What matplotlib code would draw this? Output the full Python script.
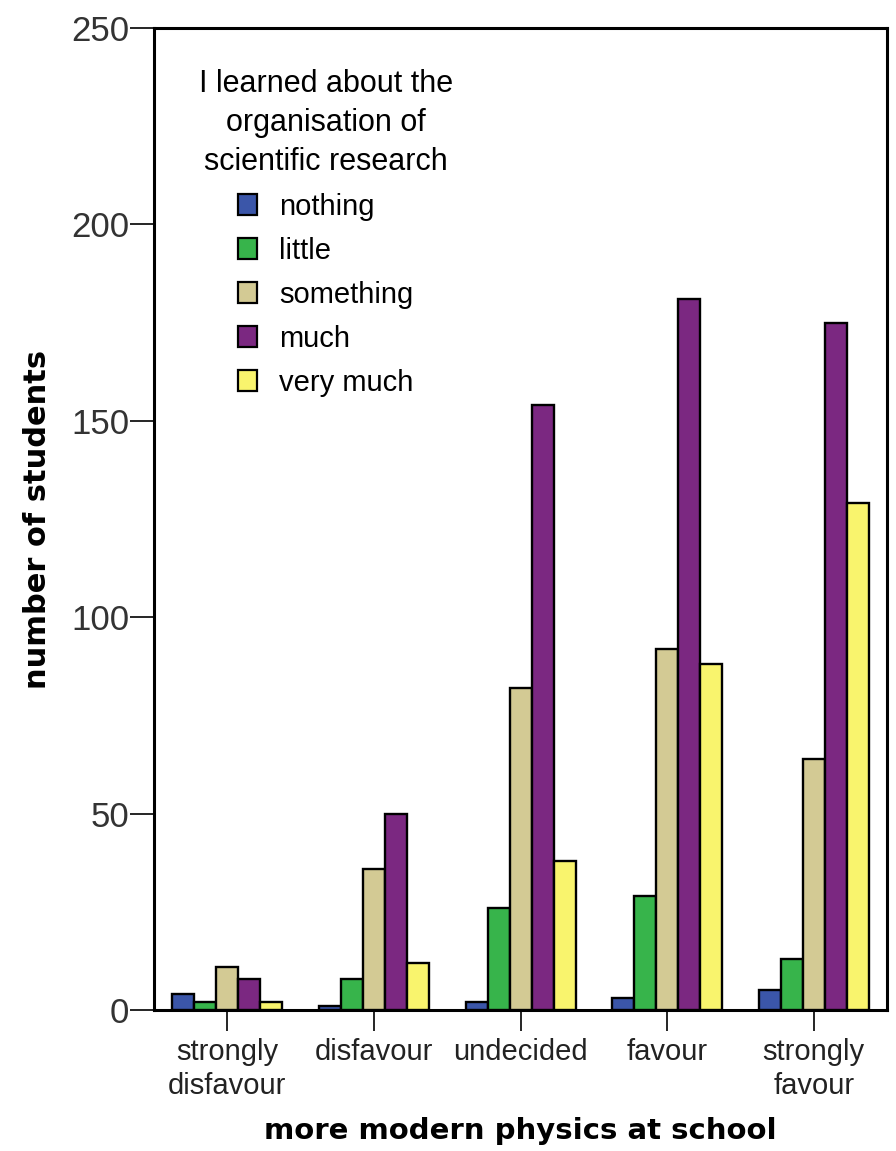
import matplotlib
matplotlib.use('Agg')
import matplotlib.pyplot as plt
import numpy as np

# data
categories = ['strongly\ndisfavour', 'disfavour', 'undecided', 'favour', 'strongly\nfavour']
levels = ['nothing', 'little', 'something', 'much', 'very much']
nothing = [4, 1, 2, 3, 5]
little = [2, 8, 26, 29, 13]
something = [11, 36, 82, 92, 64]
much = [8, 50, 154, 181, 175]
very_much = [2, 12, 38, 88, 129]
series = [nothing, little, something, much, very_much]
colors = ['#3b56a9', '#37b44b', '#d3ca94', '#7b2881', '#f9f46d']

plt.rcParams['font.family'] = ['Liberation Sans', 'DejaVu Sans']

fig = plt.figure(figsize=(8.96, 11.51), dpi=100)
ax = fig.add_axes([0.172, 0.1225, 0.818, 0.8532])

x = np.arange(len(categories))
width = 0.15
for i, (vals, col, lab) in enumerate(zip(series, colors, levels)):
    ax.bar(x + (i - 2) * width, vals, width, color=col, edgecolor='black',
           linewidth=1.7, label=lab, zorder=3)

ax.set_xlim(-0.5, 4.5)
ax.set_ylim(0, 250)
ax.set_yticks([0, 50, 100, 150, 200, 250])
ax.set_xticks(x)
ax.set_xticklabels(categories, fontsize=21, color='#222222', linespacing=1.3)
ax.tick_params(axis='y', labelsize=25, labelcolor='#333333', length=17, width=1.2, pad=1)
ax.tick_params(axis='x', length=15, width=1.2, pad=5)
for s in ax.spines.values():
    s.set_linewidth(2.2)

ax.set_ylabel('number of students', fontsize=22, fontweight='bold',
              family='DejaVu Sans', labelpad=14)
ax.set_xlabel('more modern physics at school', fontsize=21, fontweight='bold',
              family='DejaVu Sans', labelpad=12)

leg = ax.legend(title='I learned about the\norganisation of\nscientific research',
                loc='upper left', bbox_to_anchor=(0.045, 0.97), frameon=False,
                fontsize=21, title_fontsize=22, handlelength=0.65, handleheight=0.75,
                handletextpad=0.75, labelspacing=0.55, borderaxespad=0)
leg._legend_box.align = 'center'
leg.get_title().set_multialignment('center')
leg.get_title().set_linespacing(1.38)
for h in leg.legend_handles:
    h.set_linewidth(1.6)

fig.savefig('out.png', dpi=100)
